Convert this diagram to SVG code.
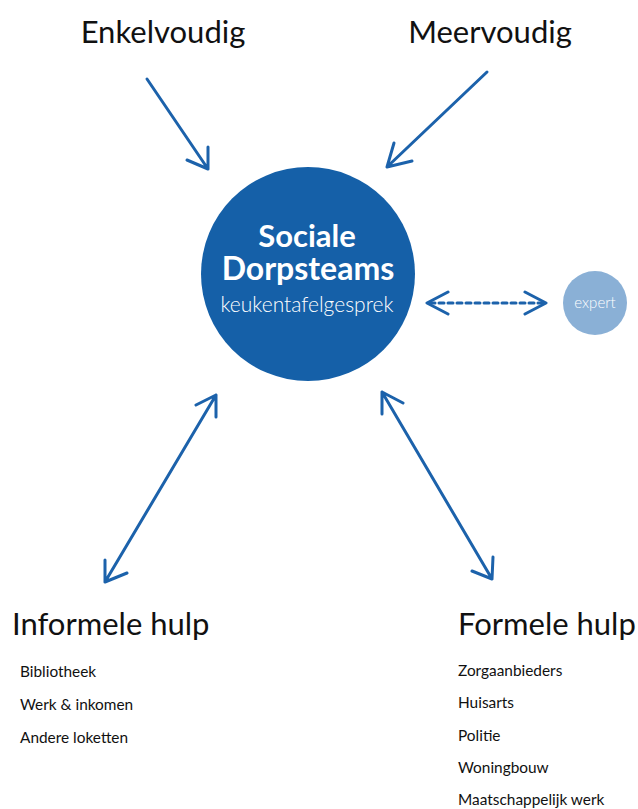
<svg xmlns="http://www.w3.org/2000/svg" width="638" height="809" viewBox="0 0 638 809">
<style>
.t{font-family:Lato,"Open Sans","DejaVu Sans",sans-serif;fill:#111;}
.h{font-size:31px;}
.li{font-size:15.4px;}
.ar{fill:none;stroke:#1c62ab;stroke-width:3;stroke-linecap:round;stroke-linejoin:round;}
.w{fill:#fff;font-family:Lato,"Open Sans","DejaVu Sans",sans-serif;text-anchor:middle;}
</style>
<rect width="638" height="809" fill="#fff"/>
<g id="enkelvoudig"><text class="t h" x="163" y="43" text-anchor="middle">Enkelvoudig</text></g>
<g id="meervoudig"><text class="t h" x="490" y="43" text-anchor="middle">Meervoudig</text></g>
<g id="sociale-dorpsteams">
<circle cx="308" cy="274" r="107" fill="#1560a8"/>
<text class="w" x="307" y="247" font-size="31" font-weight="bold">Sociale</text>
<text class="w" x="308" y="280" font-size="32" font-weight="bold">Dorpsteams</text>
<text class="w" x="307" y="312" font-size="21" font-weight="300">keukentafelgesprek</text>
</g>
<g id="expert">
<circle cx="595" cy="303" r="32" fill="#8ab0d6"/>
<text class="w" x="595" y="308" font-size="15" font-weight="300">expert</text>
</g>
<g id="informele-hulp">
<text class="t h" x="12" y="635">Informele hulp</text>
<text class="t li" x="20" y="677">Bibliotheek</text>
<text class="t li" x="20" y="710">Werk &amp; inkomen</text>
<text class="t li" x="20" y="743">Andere loketten</text>
</g>
<g id="formele-hulp">
<text class="t h" x="458" y="635">Formele hulp</text>
<text class="t li" x="458" y="676">Zorgaanbieders</text>
<text class="t li" x="458" y="708">Huisarts</text>
<text class="t li" x="458" y="741">Politie</text>
<text class="t li" x="458" y="773">Woningbouw</text>
<text class="t li" x="458" y="805">Maatschappelijk werk</text>
</g>
<g id="connectors">
<path class="ar" d="M147 79 L208 169 M208 147 L208 169 L187 160"/>
<path class="ar" d="M487 72 L387 167 M394 143 L387 167 L412 161"/>
<path class="ar" d="M216 395 L105 582 M196 405 L216 395 L216 417 M105 560 L105 582 L127 573"/>
<path class="ar" d="M382 392 L492 579 M382 414 L382 392 L403 403 M493 557 L492 579 L472 571"/>
<path class="ar" d="M448 292 L427 303 L448 314 M525 292 L546 303 L525 314"/>
<line class="ar" x1="430" y1="303" x2="543" y2="303" stroke-dasharray="5 4" stroke-linecap="butt"/>
</g>
</svg>
